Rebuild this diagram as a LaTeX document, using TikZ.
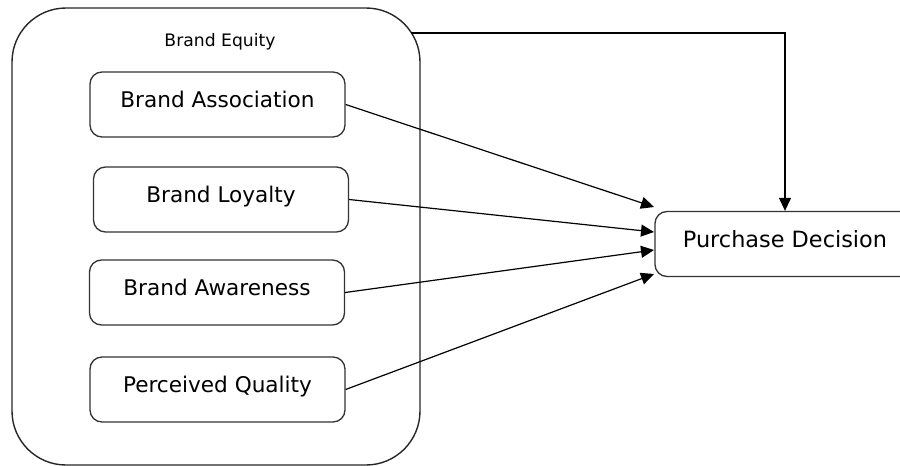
\documentclass[tikz,border=0pt]{standalone}
\usepackage{fontspec}
\setmainfont{DejaVu Sans}
\usetikzlibrary{arrows.meta}

\tikzset{
  factor/.style={draw=black!80, line width=0.65pt, rounded corners=6pt, minimum width=127.5pt, minimum height=32.5pt, inner sep=0pt, text height=8pt, text depth=5pt, font=\fontsize{10.8}{12}\selectfont},
  arr/.style={line width=0.6pt, -{Triangle[length=6.5pt,width=6pt]}}
}

\begin{document}
\begin{tikzpicture}[x=0.5pt,y=-0.5pt]
%Frame
\useasboundingbox (0,0) rectangle (900,466);

%Brand equity group
\node[draw=black!85, line width=0.7pt, rounded corners=27pt, minimum width=204pt, minimum height=228.5pt] (equity) at (216,236.5) {};
\node[font=\fontsize{8.6}{10}\selectfont] (title) at (220,42) {Brand Equity};

%Factors
\node[factor] (assoc) at (217.5,104.5) {Brand Association};
\node[factor] (loyal) at (221,199.5) {Brand Loyalty};
\node[factor] (aware) at (217,292.5) {Brand Awareness};
\node[factor] (qual) at (217.5,389.5) {Perceived Quality};

%Outcome
\node[factor, minimum width=130pt, font=\fontsize{11.2}{13}\selectfont] (purch) at (785,244) {Purchase Decision};

%Arrow targets
\coordinate (t1) at (654,207);
\coordinate (t2) at (654,232);
\coordinate (t3) at (654,250);
\coordinate (t4) at (654,274);
\coordinate (eqout) at (411,33);

%Arrows
\draw[arr] (assoc.east) -- (t1);
\draw[arr] (loyal.east) -- (t2);
\draw[arr] (aware.east) -- (t3);
\draw[arr] (qual.east) -- (t4);
\draw[arr] (eqout) -| (purch.north);

\end{tikzpicture}
\end{document}
